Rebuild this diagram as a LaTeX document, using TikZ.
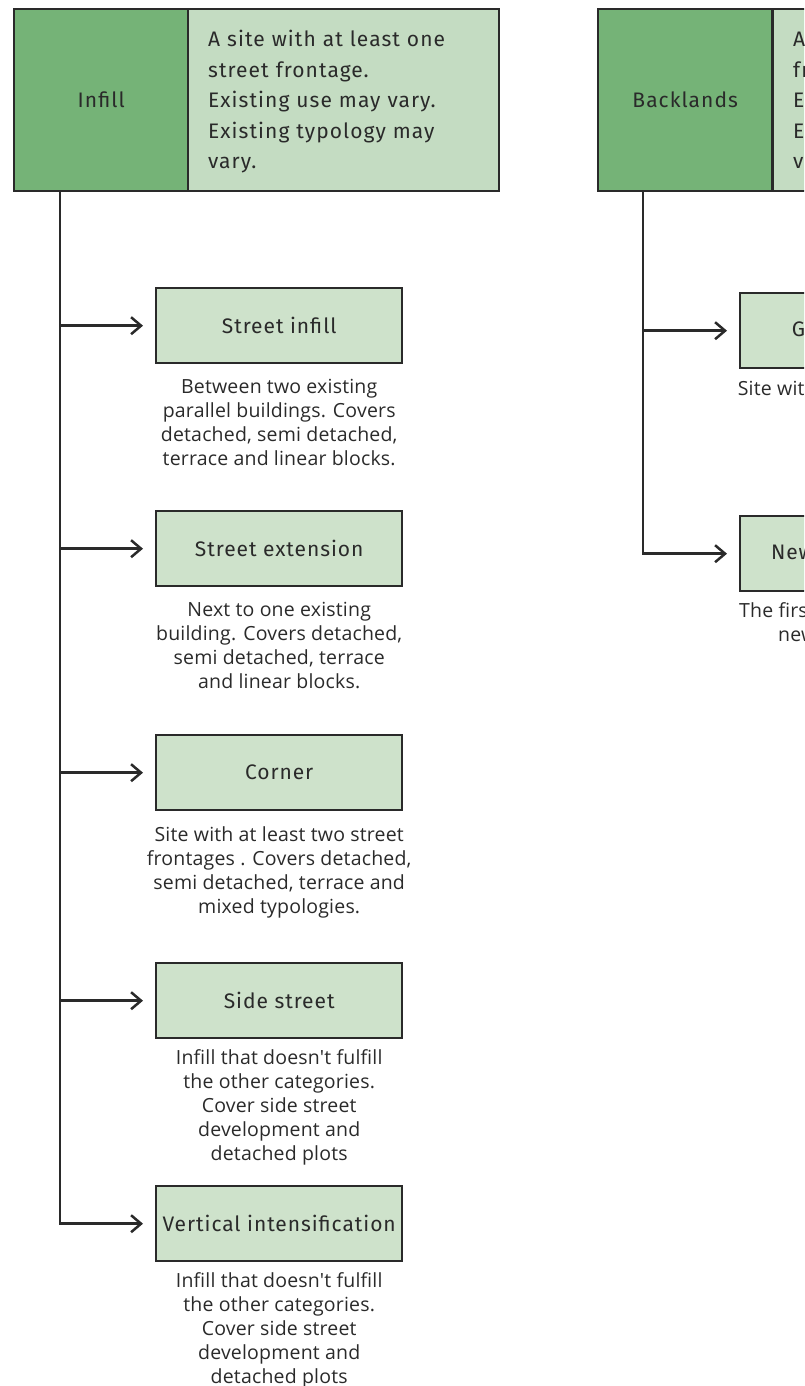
\documentclass[tikz,border=0pt]{standalone}
\usepackage{fontspec}
\setmainfont{Fira Sans}[LetterSpace=5]
\newfontfamily\labelfont{Fira Sans}[LetterSpace=4.5]
\newfontfamily\descfont{Open Sans}[LetterSpace=1]
\usetikzlibrary{arrows.meta,calc}
\definecolor{ink}{HTML}{2A2A2A}
\definecolor{darkgreen}{HTML}{75B377}
\definecolor{palegreen}{HTML}{C4DCC2}
\definecolor{boxgreen}{HTML}{CEE2CB}
\newcommand{\firstline}{\rule{0pt}{20pt}}
\begin{document}
\begin{tikzpicture}[x=1pt,y=-1pt,
  every node/.style={text=ink},
  catbox/.style={draw=ink, line width=2.4pt, fill=darkgreen, anchor=north west,
    minimum width=174pt, minimum height=182pt, inner sep=0pt,
    font=\fontsize{21}{24}\selectfont},
  infobox/.style={draw=ink, line width=2.4pt, fill=palegreen, anchor=north west,
    minimum width=311pt, minimum height=182pt, inner xsep=20pt, inner ysep=0pt,
    text width=271pt, align=left, font=\fontsize{21}{30.5}\selectfont},
  stepbox/.style={draw=ink, line width=2.4pt, fill=boxgreen, anchor=north west,
    minimum width=246pt, minimum height=75pt, inner sep=0pt,
    font=\labelfont\fontsize{21}{24}\selectfont},
  desc/.style={anchor=north, align=center, inner sep=0pt,
    font=\descfont\fontsize{19.5}{23.9}\selectfont},
  arr/.style={draw=ink, line width=2.5pt, line join=miter,
    -{Straight Barb[length=10pt,width=17pt]}, shorten >=12pt}
]
\useasboundingbox (0,0) rectangle (804,1386);
\clip (0,0) rectangle (804,1386);

% ---------- Infill branch ----------
\node[catbox] (infill) at (13,8) {Infill};
\node[infobox] (infillinfo) at (187,8) {\firstline A site with at least one\\street frontage.\\Existing use may vary.\\Existing typology may\\vary.};

\node[stepbox] (si) at (155,287) {Street infill};
\node[desc] (sid) at ($(si.south)+(0,15)$) {Between two existing\\parallel buildings. Covers\\detached, semi detached,\\terrace and linear blocks.};

\node[stepbox] (se) at (155,510) {Street extension};
\node[desc] (sed) at ($(se.south)+(0,15)$) {Next to one existing\\building. Covers detached,\\semi detached, terrace\\and linear blocks.};

\node[stepbox] (co) at (155,734) {Corner};
\node[desc] (cod) at ($(co.south)+(0,15)$) {Site with at least two street\\frontages . Covers detached,\\semi detached, terrace and\\mixed typologies.};

\node[stepbox] (ss) at (155,962) {Side street};
\node[desc] (ssd) at ($(ss.south)+(0,10)$) {Infill that doesn't fulfill\\the other categories.\\Cover side street\\development and\\detached plots};

\node[stepbox] (vi) at (155,1185) {Vertical intensification};
\node[desc] (vid) at ($(vi.south)+(0,10)$) {Infill that doesn't fulfill\\the other categories.\\Cover side street\\development and\\detached plots};

\coordinate (ls) at ($(infill.south west)+(47,0)$);
\draw[arr] (ls) |- (vi.west);
\foreach \b in {si,se,co,ss}
  \draw[arr] (ls |- \b.west) -- (\b.west);

% ---------- Backlands branch ----------
\node[catbox] (back) at (597,8) {Backlands};
\node[infobox] (backinfo) at (772,8) {\firstline A site without street\\frontage.\\Existing use may vary.\\Existing typology may\\vary.};

\node[stepbox] (gp) at (739,292) {Garden parcel};
\node[desc] (gpd) at ($(gp.south)+(0,11)$) {Site with no street frontage};

\node[stepbox] (nd) at (739,515) {New development};
\node[desc] (ndd) at ($(nd.south)+(0,10)$) {The first development on a\\new backland site.};

\coordinate (rs) at ($(back.south west)+(46,0)$);
\draw[arr] (rs) |- (nd.west);
\draw[arr] (rs |- gp.west) -- (gp.west);
\end{tikzpicture}
\end{document}
